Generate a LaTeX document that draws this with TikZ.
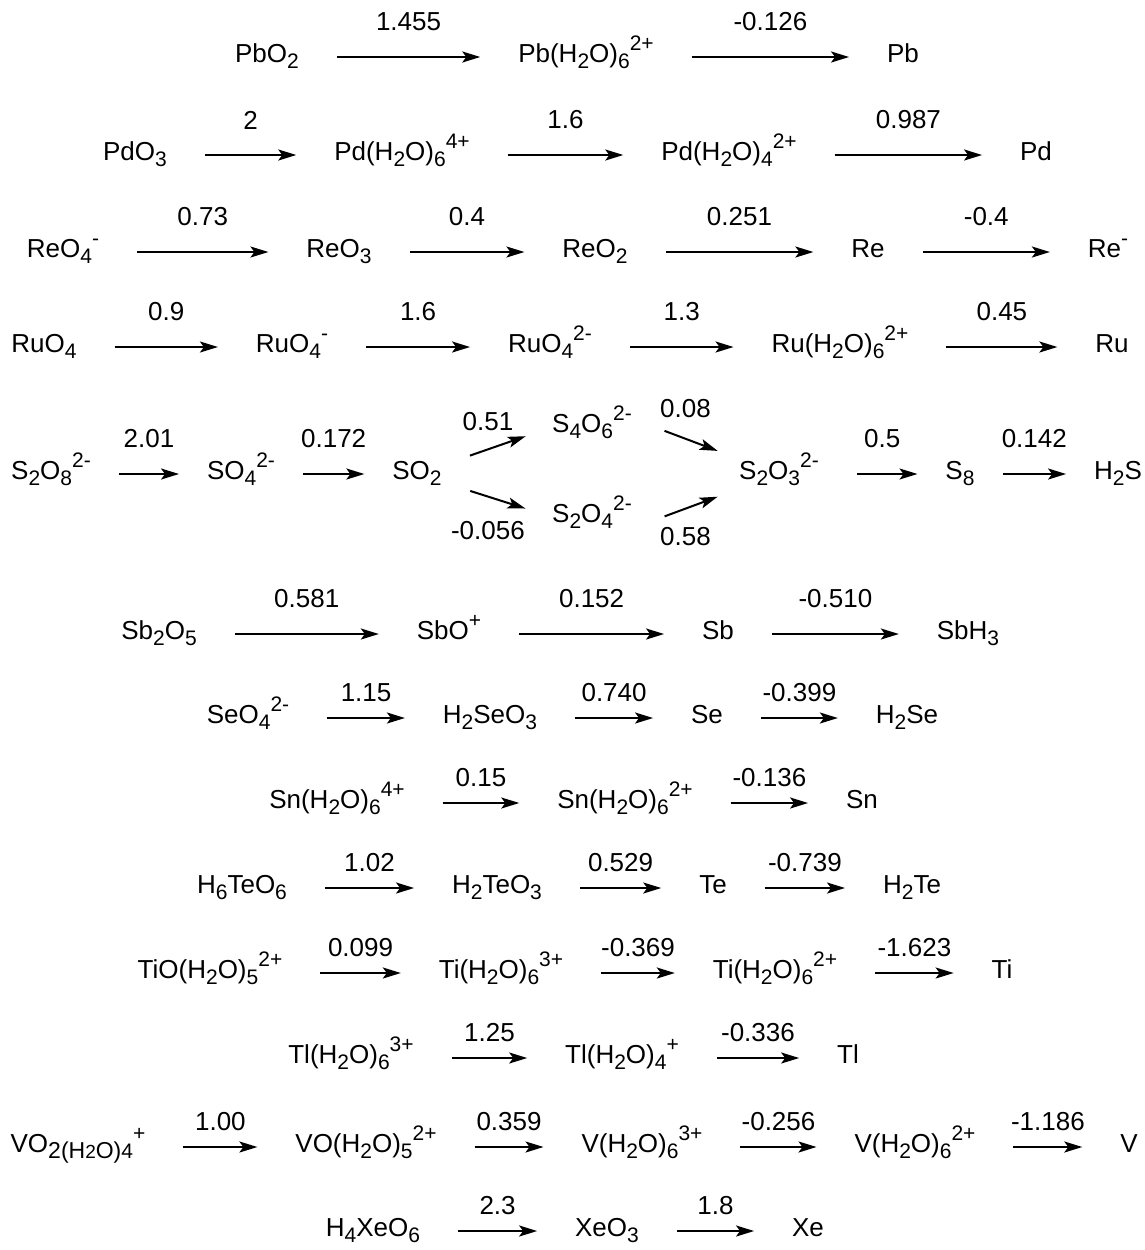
\documentclass[tikz,border=0pt]{standalone}
\usepackage{fontspec}
\setmainfont{Liberation Sans}
\usepackage{tikz}
\usetikzlibrary{arrows.meta}

\newcommand\ssub[1]{\raisebox{-2.9pt}{\fontsize{10.5}{12}\selectfont #1}}
\newcommand\ssup[1]{\raisebox{5.8pt}{\fontsize{10.5}{12}\selectfont #1}}

\tikzset{
  chem/.style={inner xsep=0pt, inner ysep=0pt, outer sep=0pt, text height=10.5pt, text depth=5pt},
  rxn/.style={-{Stealth[length=9pt,width=5.5pt,inset=2pt]}, line width=1pt, shorten <=19pt, shorten >=19pt},
  short/.style={shorten <=14pt, shorten >=14pt},
  branch/.style={-{Stealth[length=9pt,width=5.5pt,inset=2pt]}, line width=1pt},
  pot/.style={auto, inner sep=12.5pt},
  potb/.style={auto, inner sep=7.5pt}
}

\begin{document}
\begin{tikzpicture}[x=0.5pt, y=-0.5pt, font=\fontsize{13}{15}\selectfont]
  \useasboundingbox (0,0) rectangle (1145,1250);
  % Pb
  \node[chem] (pbo2) at (267,57) {PbO\ssub{2}};
  \node[chem] (pbaq) at (586,57) {Pb(H\ssub{2}O)\ssub{6}\ssup{2+}};
  \node[chem] (pb)   at (903,57) {Pb};
  \path[rxn]
  (pbo2) edge node [pot] {1.455} (pbaq)
  (pbaq) edge node [pot] {-0.126} (pb)
;
  % Pd
  \node[chem] (pdo3)  at (135,155)  {PdO\ssub{3}};
  \node[chem] (pdaqa) at (402,155)  {Pd(H\ssub{2}O)\ssub{6}\ssup{4+}};
  \node[chem] (pdaqb) at (729,155)  {Pd(H\ssub{2}O)\ssub{4}\ssup{2+}};
  \node[chem] (pd)    at (1036,155) {Pd};
  \path[rxn]
  (pdo3) edge node [pot] {2} (pdaqa)
  (pdaqa) edge node [pot] {1.6} (pdaqb)
  (pdaqb) edge node [pot] {0.987} (pd)
;
  % Re
  \node[chem] (reo4) at (63,252)   {ReO\ssub{4}\ssup{-}};
  \node[chem] (reo3) at (339,252)  {ReO\ssub{3}};
  \node[chem] (reo2) at (595,252)  {ReO\ssub{2}};
  \node[chem] (re)   at (868,252)  {Re};
  \node[chem] (rem)  at (1108,252) {Re\ssup{-}};
  \path[rxn]
  (reo4) edge node [pot] {0.73} (reo3)
  (reo3) edge node [pot] {0.4} (reo2)
  (reo2) edge node [pot] {0.251} (re)
  (re) edge node [pot] {-0.4} (rem)
;
  % Ru
  \node[chem] (ruo4)  at (44,347)   {RuO\ssub{4}};
  \node[chem] (ruo4a) at (292,347)  {RuO\ssub{4}\ssup{-}};
  \node[chem] (ruo4b) at (550,347)  {RuO\ssub{4}\ssup{2-}};
  \node[chem] (ruaq)  at (840,347)  {Ru(H\ssub{2}O)\ssub{6}\ssup{2+}};
  \node[chem] (ru)    at (1112,347) {Ru};
  \path[rxn]
  (ruo4) edge node [pot] {0.9} (ruo4a)
  (ruo4a) edge node [pot] {1.6} (ruo4b)
  (ruo4b) edge node [pot] {1.3} (ruaq)
  (ruaq) edge node [pot] {0.45} (ru)
;
  % S
  \node[chem] (s2o8) at (51,474)   {S\ssub{2}O\ssub{8}\ssup{2-}};
  \node[chem] (so4)  at (241,474)  {SO\ssub{4}\ssup{2-}};
  \node[chem] (so2)  at (417,474)  {SO\ssub{2}};
  \node[chem] (s4o6) at (592,427)  {S\ssub{4}O\ssub{6}\ssup{2-}};
  \node[chem] (s2o4) at (592,517)  {S\ssub{2}O\ssub{4}\ssup{2-}};
  \node[chem] (s2o3) at (779,474)  {S\ssub{2}O\ssub{3}\ssup{2-}};
  \node[chem] (s8)   at (960,474)  {S\ssub{8}};
  \node[chem] (h2s)  at (1118,474) {H\ssub{2}S};
  \path[rxn, short]
  (s2o8) edge node [pot] {2.01} (so4)
  (so4) edge node [pot] {0.172} (so2)
  (s2o3) edge [shorten <=19pt] node [pot] {0.5} (s8)
  (s8) edge node [pot] {0.142} (h2s)
;
  \path[branch]
  (so2) edge [shorten <=15pt, shorten >=14pt] node [above=7pt, xshift=-4.5pt, inner sep=0pt] {0.51} (s4o6.west)
  (so2) edge [shorten <=15pt, shorten >=14pt] node [below=10.5pt, xshift=-4.5pt, inner sep=0pt] {-0.056} (s2o4.west)
  ([yshift=4.25pt]s4o6.east) edge [shorten <=17.5pt, shorten >=11.5pt] node [above=10pt, inner sep=0pt] {0.08} (s2o3)
  ([yshift=-5.75pt]s2o4.east) edge [shorten <=17.5pt, shorten >=11.5pt] node [below=9pt, inner sep=0pt] {0.58} (s2o3)
;
  % Sb
  \node[chem] (sb2o5) at (159,634) {Sb\ssub{2}O\ssub{5}};
  \node[chem] (sbo)   at (449,634) {SbO\ssup{+}};
  \node[chem] (sb)    at (718,634) {Sb};
  \node[chem] (sbh3)  at (968,634) {SbH\ssub{3}};
  \path[rxn]
  (sb2o5) edge node [pot] {0.581} (sbo)
  (sbo) edge node [pot] {0.152} (sb)
  (sb) edge node [pot] {-0.510} (sbh3)
;
  % Se
  \node[chem] (seo4)   at (248,718) {SeO\ssub{4}\ssup{2-}};
  \node[chem] (h2seo3) at (490,718) {H\ssub{2}SeO\ssub{3}};
  \node[chem] (se)     at (707,718) {Se};
  \node[chem] (h2se)   at (907,718) {H\ssub{2}Se};
  \path[rxn]
  (seo4) edge node [potb] {1.15} (h2seo3)
  (h2seo3) edge node [potb] {0.740} (se)
  (se) edge node [potb] {-0.399} (h2se)
;
  % Sn
  \node[chem] (snaqa) at (337,803) {Sn(H\ssub{2}O)\ssub{6}\ssup{4+}};
  \node[chem] (snaqb) at (625,803) {Sn(H\ssub{2}O)\ssub{6}\ssup{2+}};
  \node[chem] (sn)    at (862,803) {Sn};
  \path[rxn]
  (snaqa) edge node [potb] {0.15} (snaqb)
  (snaqb) edge node [potb] {-0.136} (sn)
;
  % Te
  \node[chem] (h6teo6) at (242,888) {H\ssub{6}TeO\ssub{6}};
  \node[chem] (h2teo3) at (497,888) {H\ssub{2}TeO\ssub{3}};
  \node[chem] (te)     at (713,888) {Te};
  \node[chem] (h2te)   at (912,888) {H\ssub{2}Te};
  \path[rxn]
  (h6teo6) edge node [potb] {1.02} (h2teo3)
  (h2teo3) edge node [potb] {0.529} (te)
  (te) edge node [potb] {-0.739} (h2te)
;
  % Ti
  \node[chem] (tioaq) at (210,973)  {TiO(H\ssub{2}O)\ssub{5}\ssup{2+}};
  \node[chem] (tiaqa) at (501,973)  {Ti(H\ssub{2}O)\ssub{6}\ssup{3+}};
  \node[chem] (tiaqb) at (775,973)  {Ti(H\ssub{2}O)\ssub{6}\ssup{2+}};
  \node[chem] (ti)    at (1002,973) {Ti};
  \path[rxn]
  (tioaq) edge node [potb] {0.099} (tiaqa)
  (tiaqa) edge node [potb] {-0.369} (tiaqb)
  (tiaqb) edge node [potb] {-1.623} (ti)
;
  % Tl
  \node[chem] (tlaqa) at (351,1058) {Tl(H\ssub{2}O)\ssub{6}\ssup{3+}};
  \node[chem] (tlaqb) at (622,1058) {Tl(H\ssub{2}O)\ssub{4}\ssup{+}};
  \node[chem] (tl)    at (848,1058) {Tl};
  \path[rxn]
  (tlaqa) edge node [potb] {1.25} (tlaqb)
  (tlaqb) edge node [potb] {-0.336} (tl)
;
  % V
  \node[chem] (vo2aq) at (78,1147)   {VO\raisebox{-2.9pt}{\fontsize{11.5}{13}\selectfont 2(H{\fontsize{9.5}{11}\selectfont 2}O)}\ssub{4}\ssup{+}};
  \node[chem] (voaq)  at (366,1147)  {VO(H\ssub{2}O)\ssub{5}\ssup{2+}};
  \node[chem] (vaqa)  at (642,1147)  {V(H\ssub{2}O)\ssub{6}\ssup{3+}};
  \node[chem] (vaqb)  at (915,1147)  {V(H\ssub{2}O)\ssub{6}\ssup{2+}};
  \node[chem] (v)     at (1129,1147) {V};
  \path[rxn]
  (vo2aq) edge node [potb] {1.00} (voaq)
  (voaq) edge node [potb] {0.359} (vaqa)
  (vaqa) edge node [potb] {-0.256} (vaqb)
  (vaqb) edge node [potb] {-1.186} (v)
;
  % Xe
  \node[chem] (h4xeo6) at (373,1231) {H\ssub{4}XeO\ssub{6}};
  \node[chem] (xeo3)   at (607,1231) {XeO\ssub{3}};
  \node[chem] (xe)     at (808,1231) {Xe};
  \path[rxn]
  (h4xeo6) edge node [potb] {2.3} (xeo3)
  (xeo3) edge node [potb] {1.8} (xe)
;
\end{tikzpicture}
\end{document}
